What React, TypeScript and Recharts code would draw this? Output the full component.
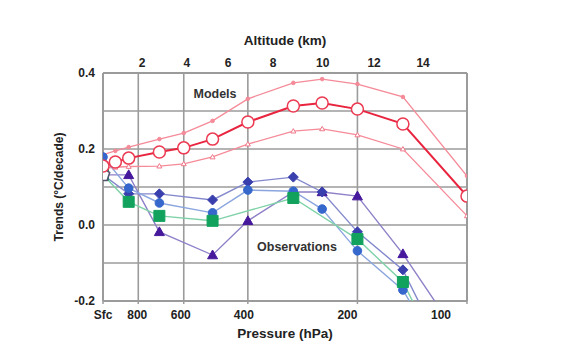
import { LineChart, Line, XAxis, YAxis, ReferenceLine, Label } from 'recharts'

// pressure levels (hPa) and trends (°C/decade)
const modelPressure = [1000, 925, 850, 700, 600, 500, 400, 300, 250, 200, 150, 100]
const modelMean = [0.155, 0.166, 0.176, 0.192, 0.203, 0.226, 0.271, 0.313, 0.321, 0.305, 0.266, 0.076]
const modelUpper = [0.185, 0.195, 0.205, 0.226, 0.242, 0.274, 0.332, 0.374, 0.384, 0.371, 0.337, 0.129]
const modelLower = [0.15, 0.152, 0.154, 0.155, 0.161, 0.179, 0.213, 0.247, 0.253, 0.237, 0.2, 0.024]

const obsPressure = [1000, 850, 700, 500, 400, 300, 250, 200, 150, 100]
const obsDiamond = [0.132, 0.082, 0.082, 0.066, 0.113, 0.126, 0.087, -0.018, -0.118, -0.458]
const obsCircle = [0.179, 0.097, 0.058, 0.032, 0.092, 0.089, 0.042, -0.068, -0.171, -0.458]
const obsTriangle = [0.132, 0.132, -0.018, -0.079, 0.011, 0.087, 0.087, 0.076, -0.076, -0.326]
const obsSquare = [0.132, 0.061, 0.024, 0.011, null, 0.071, null, -0.037, -0.15, -0.484]
const surfacePressure = [1000]
const surfaceObs = [0.132]

const pressureTicks = [1000, 800, 600, 400, 200, 100]
const trendTicks = [-0.2, 0, 0.2, 0.4]
const gridTrends = [0.3, 0.2, 0.1, 0, -0.1]
const gridPressures = [800, 600, 400, 200]
const altitudeKm = [2, 4, 6, 8, 10, 12, 14]
const altitudePressure = [781, 588, 453, 341, 249, 180, 132]

const toRows = (p: number[], v: (number | null)[]) => p.map((pressure, i) => ({ pressure, value: v[i] }))

const FONT = '"Liberation Sans", Arial, sans-serif'
const GRID = '#9b9b9b'

type Shape = 'circle' | 'diamond' | 'triangle' | 'square' | 'pentagon' | 'dot' | 'tri'

const makeDot = (shape: Shape, size: number, fill: string, stroke: string, sw = 1) => (props: any) => {
  const { cx, cy, index, value } = props
  if (cx == null || cy == null || value == null || value < -0.2) return <g key={index} />
  const s = size
  let d = ''
  if (shape === 'circle' || shape === 'dot') {
    return <circle key={index} cx={cx} cy={cy} r={s} fill={fill} stroke={stroke} strokeWidth={sw} />
  }
  if (shape === 'diamond') d = `M${cx},${cy - s}L${cx + s},${cy}L${cx},${cy + s}L${cx - s},${cy}Z`
  if (shape === 'triangle' || shape === 'tri') d = `M${cx},${cy - s}L${cx + s},${cy + s * 0.75}L${cx - s},${cy + s * 0.75}Z`
  if (shape === 'square') d = `M${cx - s},${cy - s}h${2 * s}v${2 * s}h${-2 * s}Z`
  if (shape === 'pentagon') {
    const pts = [0, 1, 2, 3, 4].map((k) => {
      const a = -Math.PI / 2 + (k * 2 * Math.PI) / 5
      return `${cx + s * Math.cos(a)},${cy + s * Math.sin(a)}`
    })
    d = `M${pts.join('L')}Z`
  }
  return <path key={index} d={d} fill={fill} stroke={stroke} strokeWidth={sw} />
}

const labelShift: Record<number, number> = { 1000: 0, 800: -1, 600: -3, 400: -4, 200: -10, 100: -26 }

function PressureTick({ x, y, payload }: any) {
  const v = payload.value
  return (
    <text x={x + (labelShift[v] ?? 0)} y={y} dy="0.71em" textAnchor="middle" fontFamily={FONT} fontWeight="bold" fontSize={12} fill="#222">
      {v === 1000 ? 'Sfc' : v}
    </text>
  )
}

function AltitudeTick({ x, y, payload }: any) {
  const km = altitudeKm[altitudePressure.indexOf(payload.value)]
  return (
    <text x={x} y={y} textAnchor="middle" fontFamily={FONT} fontWeight="bold" fontSize={12} fill="#222">
      {km}
    </text>
  )
}

export default function App() {
  const tickStyle = { fontFamily: FONT, fontWeight: 'bold', fontSize: 12, fill: '#222' }
  const titleStyle = { fontFamily: FONT, fontWeight: 'bold', fontSize: 13.5, fill: '#222' }

  return (
    <div style={{ position: 'absolute', left: 0, top: 0, width: 576, height: 354, background: '#fff' }}>
      <LineChart width={576} height={354} margin={{ top: 33, right: 109, bottom: 13, left: 53 }}>
        <XAxis
          xAxisId="p"
          type="number"
          dataKey="pressure"
          scale="log"
          domain={[100, 1000]}
          reversed
          allowDataOverflow
          ticks={pressureTicks}
          height={40}
          axisLine={false}
          tickLine={{ stroke: GRID, strokeWidth: 1.5 }}
          tickSize={3}
          tickMargin={6}
          tick={<PressureTick />}
          interval={0}
        >
          <Label value="Pressure (hPa)" position="insideBottom" offset={3} style={titleStyle} />
        </XAxis>
        <XAxis
          xAxisId="alt"
          orientation="top"
          type="number"
          dataKey="pressure"
          scale="log"
          domain={[100, 1000]}
          reversed
          allowDataOverflow
          ticks={altitudePressure}
          height={40}
          axisLine={false}
          tickLine={false}
          tickSize={0}
          tickMargin={6}
          tick={<AltitudeTick />}
          interval={0}
        >
          <Label value="Altitude (km)" position="insideTop" offset={2} style={titleStyle} />
        </XAxis>
        <YAxis
          yAxisId="t"
          type="number"
          domain={[-0.2, 0.4]}
          allowDataOverflow
          ticks={trendTicks}
          tickFormatter={(v: number) => v.toFixed(1)}
          width={50}
          axisLine={false}
          tickLine={false}
          tickSize={0}
          tickMargin={8}
          tick={tickStyle}
          interval={0}
        >
          <Label value="Trends (°C/decade)" angle={-90} position="insideLeft" offset={6} style={{ ...titleStyle, fontSize: 12, textAnchor: 'middle' }} />
        </YAxis>

        {gridTrends.map((t) => (
          <ReferenceLine key={'h' + t} xAxisId="p" yAxisId="t" y={t} stroke={GRID} strokeWidth={1.6} />
        ))}
        {gridPressures.map((p) => (
          <ReferenceLine key={'v' + p} xAxisId="p" yAxisId="t" x={p} stroke={GRID} strokeWidth={1.6} />
        ))}
        <ReferenceLine xAxisId="p" yAxisId="t" y={0.4} stroke={GRID} strokeWidth={2} />
        <ReferenceLine xAxisId="p" yAxisId="t" y={-0.2} stroke={GRID} strokeWidth={2} />
        <ReferenceLine xAxisId="p" yAxisId="t" x={1000} stroke={GRID} strokeWidth={2} />
        <ReferenceLine xAxisId="p" yAxisId="t" x={100} stroke={GRID} strokeWidth={2} />

        <Line xAxisId="p" yAxisId="t" data={toRows(modelPressure, modelUpper)} dataKey="value" stroke="#f58a98" strokeWidth={1.3} dot={makeDot('dot', 1.8, '#f58a98', '#f58a98')} isAnimationActive={false} />
        <Line xAxisId="p" yAxisId="t" data={toRows(modelPressure, modelLower)} dataKey="value" stroke="#f58a98" strokeWidth={1.3} dot={makeDot('tri', 2.5, '#fff', '#f0788a')} isAnimationActive={false} />

        <Line xAxisId="p" yAxisId="t" data={toRows(obsPressure, obsTriangle)} dataKey="value" stroke="#8f80c8" strokeWidth={1.4} dot={makeDot('triangle', 5, '#46189c', '#46189c')} isAnimationActive={false} />
        <Line xAxisId="p" yAxisId="t" data={toRows(obsPressure, obsDiamond)} dataKey="value" stroke="#8388cc" strokeWidth={1.4} dot={makeDot('diamond', 5, '#3a3fae', '#3a3fae')} isAnimationActive={false} />
        <Line xAxisId="p" yAxisId="t" data={toRows(obsPressure, obsCircle)} dataKey="value" stroke="#8ba6de" strokeWidth={1.4} dot={makeDot('circle', 4.3, '#3567cc', '#3567cc')} isAnimationActive={false} />
        <Line xAxisId="p" yAxisId="t" data={toRows(obsPressure, obsSquare)} dataKey="value" connectNulls stroke="#7fd2a8" strokeWidth={1.4} dot={makeDot('square', 5.5, '#12a25d', '#12a25d')} isAnimationActive={false} />
        <Line xAxisId="alt" yAxisId="t" data={toRows(surfacePressure, surfaceObs)} dataKey="value" stroke="none" dot={makeDot('pentagon', 7, '#fff', '#55556e', 1.6)} isAnimationActive={false} />

        <Line xAxisId="p" yAxisId="t" data={toRows(modelPressure, modelMean)} dataKey="value" stroke="#e8243f" strokeWidth={2} dot={makeDot('circle', 6, '#fff', '#ec3a52', 1.5)} isAnimationActive={false} />

        <text x={215} y={94} textAnchor="middle" dominantBaseline="central" fontFamily={FONT} fontWeight="bold" fontSize={12.5} fill="#333">
          Models
        </text>
        <text x={297} y={247} textAnchor="middle" dominantBaseline="central" fontFamily={FONT} fontWeight="bold" fontSize={12.5} fill="#333">
          Observations
        </text>
      </LineChart>
    </div>
  )
}
